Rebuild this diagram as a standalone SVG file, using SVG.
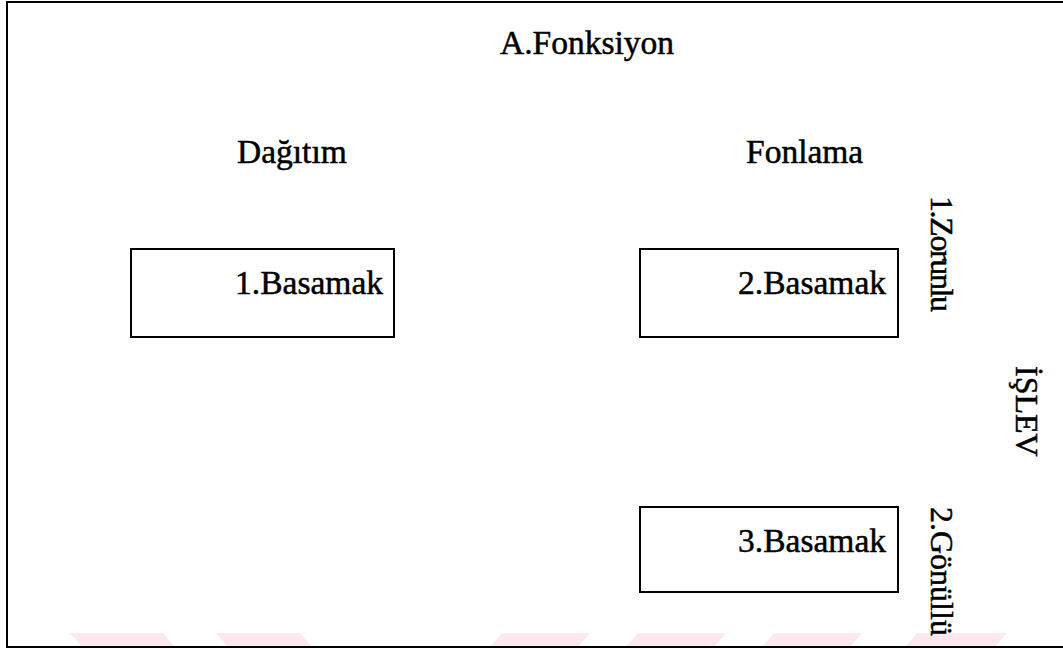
<svg xmlns="http://www.w3.org/2000/svg" width="1063" height="649" viewBox="0 0 1063 649">
  <style>
    .lbl { font-family: "Liberation Serif", "Times New Roman", serif; font-size: 33.5px; fill: #000; stroke: #000; stroke-width: 0.5; }
    .vert { font-size: 32px; }
    .box { fill: #fff; stroke: #000; stroke-width: 2; }
    .frame { stroke: #000; stroke-width: 2; fill: none; }
    .mark { fill: #fde9ed; }
  </style>
  <rect width="1063" height="649" fill="#fff"/>

  <!-- faint band of slanted stripes along the bottom edge -->
  <g id="stripes">
    <polygon class="mark" points="70,633 163,633 175,647 82,647"/>
    <polygon class="mark" points="216,633 300,633 312,647 228,647"/>
    <polygon class="mark" points="502,633 590,633 578,647 490,647"/>
    <polygon class="mark" points="638,633 726,633 714,647 626,647"/>
    <polygon class="mark" points="774,633 862,633 850,647 762,647"/>
    <polygon class="mark" points="917,633 1007,633 995,647 905,647"/>
  </g>

  <!-- outer frame: top, left and bottom edges -->
  <g id="frame">
    <line class="frame" x1="6" y1="2" x2="1063" y2="2"/>
    <line class="frame" x1="7" y1="1" x2="7" y2="648"/>
    <line class="frame" x1="6" y1="647" x2="1063" y2="647"/>
  </g>

  <g id="title">
    <text class="lbl" x="500" y="54">A.Fonksiyon</text>
  </g>
  <g id="col-dagitim">
    <text class="lbl" x="237" y="163">Dağıtım</text>
  </g>
  <g id="col-fonlama">
    <text class="lbl" x="746" y="163">Fonlama</text>
  </g>

  <g id="basamak-1">
    <rect class="box" x="131" y="249" width="263" height="88"/>
    <text class="lbl" x="383" y="294" text-anchor="end">1.Basamak</text>
  </g>
  <g id="basamak-2">
    <rect class="box" x="640" y="249" width="258" height="88"/>
    <text class="lbl" x="886" y="294" text-anchor="end">2.Basamak</text>
  </g>
  <g id="basamak-3">
    <rect class="box" x="640" y="507" width="258" height="85"/>
    <text class="lbl" x="886" y="552" text-anchor="end">3.Basamak</text>
  </g>

  <!-- vertical labels on the right side -->
  <g id="zorunlu">
    <text class="lbl vert" x="931" y="196" transform="rotate(90 931 196)" textLength="116">1.Zorunlu</text>
  </g>
  <g id="islev">
    <text class="lbl vert" x="1016" y="366" transform="rotate(90 1016 366)">İŞLEV</text>
  </g>
  <g id="gonullu">
    <text class="lbl vert" x="931" y="507" transform="rotate(90 931 507)">2.Gönüllü</text>
  </g>

  <!-- no connectors in this figure -->
  <g id="connectors"/>
</svg>
